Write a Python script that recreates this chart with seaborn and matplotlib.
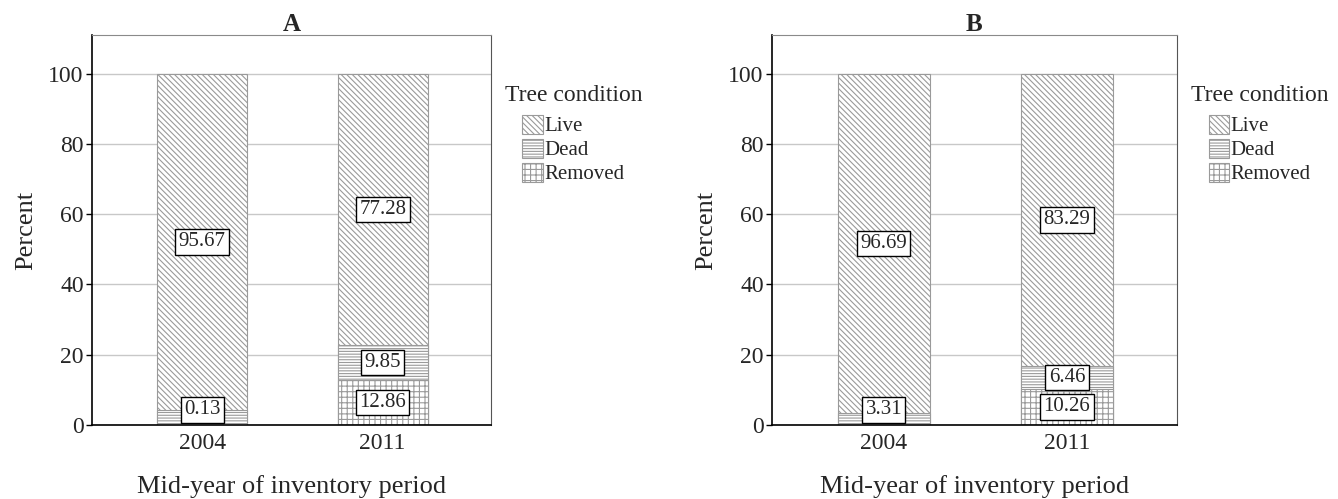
import matplotlib
matplotlib.use("Agg")
import matplotlib.pyplot as plt
import seaborn as sns
import numpy as np
import pandas as pd

# ---- data ----
years = ["2004", "2011"]
conditions = ["Live", "Dead", "Removed"]
panel_titles = ["A", "B"]
live_A = [95.67, 77.28]
dead_A = [4.20, 9.85]
removed_A = [0.13, 12.86]
live_B = [96.69, 83.29]
dead_B = [3.31, 6.46]
removed_B = [0.00, 10.26]
# which segment labels are printed (per year: live, dead, removed)
show_A = [[True, False, True], [True, True, True]]
show_B = [[True, True, False], [True, True, True]]
yticks = [0, 20, 40, 60, 80, 100]

sns.set_style("white")
plt.rcParams["font.family"] = ["Liberation Serif", "DejaVu Serif"]
plt.rcParams["hatch.color"] = "#9a9a9a"
plt.rcParams["hatch.linewidth"] = 0.8

fig = plt.figure(figsize=(13.38, 4.99), dpi=100)
W, H = 1338, 499
axA = fig.add_axes([92 / W, (H - 425) / H, 399 / W, 390 / H])
axB = fig.add_axes([772 / W, (H - 425) / H, 405 / W, 390 / H])

hatches = ["\\" * 6, "-" * 6, "+++"]
edge = "#9a9a9a"


def draw(ax, live, dead, removed, show, title):
    df = pd.DataFrame({"year": years, "Live": live, "Dead": dead, "Removed": removed})
    cum_total = df["Live"] + df["Dead"] + df["Removed"]
    cum_dr = df["Dead"] + df["Removed"]
    layers = [cum_total, cum_dr, df["Removed"]]
    for vals, h in zip(layers, hatches):
        sns.barplot(x=df["year"], y=vals, ax=ax, color="white", edgecolor=edge,
                    linewidth=0.8, hatch=h, width=0.5, saturation=1, zorder=2)
    # labels
    for i in range(len(years)):
        segs = [(df["Dead"][i] + df["Removed"][i], df["Live"][i]),
                (df["Removed"][i], df["Dead"][i]),
                (0.0, df["Removed"][i])]
        for k, (b, v) in enumerate(segs):
            if not show[i][k]:
                continue
            yc = max(b + v / 2, 4.3)
            ax.text(i, yc, f"{v:.2f}", ha="center", va="center", fontsize=15, zorder=5,
                    bbox=dict(boxstyle="square,pad=0.16", fc="white", ec="black", lw=1.0))
    ax.set_xlim(-0.61, 1.6)
    ax.set_ylim(0, 111)
    ax.set_yticks(yticks)
    ax.set_yticklabels([str(t) for t in yticks], fontsize=17)
    ax.tick_params(axis="x", labelsize=17, length=0, pad=6)
    ax.tick_params(axis="y", length=4, width=1, color="black", pad=2, left=True)
    ax.yaxis.grid(True, color="#c8c8c8", linewidth=1.0, zorder=0)
    ax.set_axisbelow(True)
    ax.set_xlabel("Mid-year of inventory period", fontsize=19, labelpad=15)
    ax.set_ylabel("Percent", fontsize=19, labelpad=8)
    ax.set_title(title, fontsize=18, fontweight="bold", pad=3)
    for s in ["left", "bottom"]:
        ax.spines[s].set_color("black")
        ax.spines[s].set_linewidth(1.2)
    ax.spines["top"].set_color("#8a8a8a")
    ax.spines["right"].set_color("#555555")
    for s in ax.spines.values():
        s.set_visible(True)
    # legend
    handles = [matplotlib.patches.Patch(facecolor="white", edgecolor=edge, hatch=h, lw=0.8, label=c)
               for c, h in zip(conditions, hatches)]
    ax.text(1.035, 0.845, "Tree condition", transform=ax.transAxes, fontsize=17,
            ha="left", va="center")
    ax.legend(handles=handles, loc="upper left", bbox_to_anchor=(1.078, 0.795), frameon=False,
              fontsize=15, handlelength=1.0, handleheight=1.0, handletextpad=0.05,
              labelspacing=0.12, borderaxespad=0, borderpad=0)


draw(axA, live_A, dead_A, removed_A, show_A, panel_titles[0])
draw(axB, live_B, dead_B, removed_B, show_B, panel_titles[1])

fig.savefig("out.png", dpi=100)
